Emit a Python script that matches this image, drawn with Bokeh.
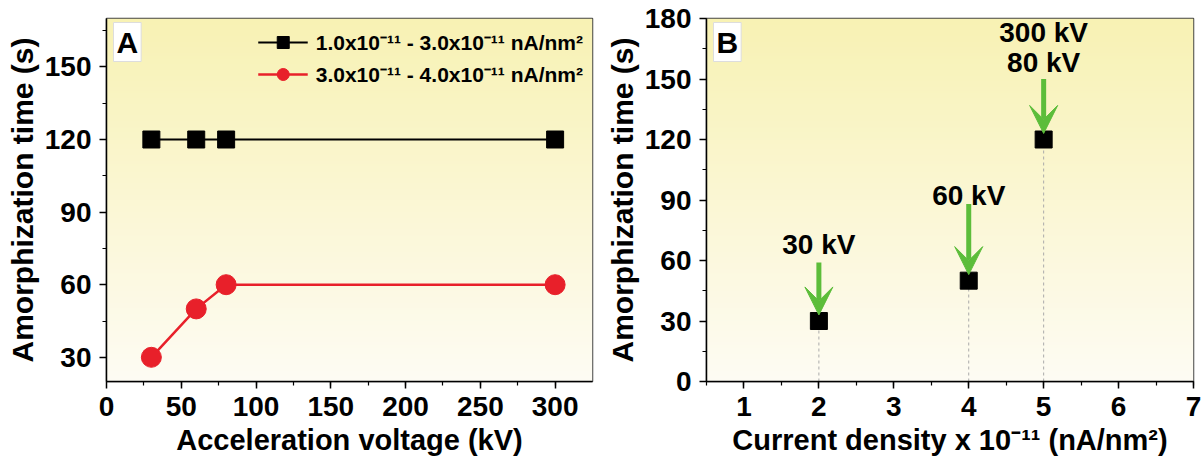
import numpy as np
from bokeh.plotting import figure
from bokeh.layouts import row
from bokeh.models import Label, Arrow, VeeHead, Range1d, FixedTicker, Legend, LegendItem
from bokeh.embed import file_html
from bokeh.resources import INLINE

# ---------------- data ----------------
voltage_kv = [30, 60, 80, 300]
time_low_density = [120, 120, 120, 120]
time_high_density = [30, 50, 60, 60]
legend_labels = ["1.0x10\u207b\u00b9\u00b9 - 3.0x10\u207b\u00b9\u00b9 nA/nm\u00b2",
                 "3.0x10\u207b\u00b9\u00b9 - 4.0x10\u207b\u00b9\u00b9 nA/nm\u00b2"]

current_density = [2, 4, 5]
time_b = [30, 50, 120]
kv_labels = ["30 kV", "60 kV", "80 kV"]
kv_label_y = [68, 92, 158]
extra_label = "300 kV"
extra_label_y = 173
arrow_top = [59, 88, 150]

xticks_a = [0, 50, 100, 150, 200, 250, 300]
yticks_a = [30, 60, 90, 120, 150]
xticks_b = [1, 2, 3, 4, 5, 6, 7]
yticks_b = [0, 30, 60, 90, 120, 150, 180]

FONT = "Liberation Sans"
GREEN = "#5cbd3a"
H = 458


def gradient_img(n=256):
    t = np.linspace(0.0, 1.0, n)[:, None]  # row 0 = bottom
    top = np.array([248, 242, 180])
    bot = np.array([254, 252, 244])
    rgb = bot + (top - bot) * t
    img = np.empty((n, 1, 4), dtype=np.uint8)
    img[:, 0, :3] = rgb.astype(np.uint8)
    img[:, 0, 3] = 255
    return img.view(np.uint32).reshape(n, 1)


def style(p, xlabel, ylabel):
    p.outline_line_color = "#444444"
    p.outline_line_width = 1.5
    p.grid.visible = False
    for ax in (p.xaxis[0], p.yaxis[0]):
        ax.axis_line_color = "black"
        ax.axis_line_width = 1.5
        ax.major_tick_line_color = "black"
        ax.major_tick_line_width = 1.5
        ax.minor_tick_line_color = "black"
        ax.minor_tick_line_width = 1.2
        ax.major_tick_out = 7
        ax.major_tick_in = 0
        ax.minor_tick_out = 4
        ax.minor_tick_in = 0
        ax.major_label_text_font = FONT
        ax.major_label_text_font_style = "bold"
        ax.major_label_text_font_size = "28px"
        ax.major_label_text_color = "black"
        ax.axis_label_text_font = FONT
        ax.axis_label_text_font_style = "bold"
        ax.axis_label_text_color = "black"
    p.xaxis.axis_label = xlabel
    p.yaxis.axis_label = ylabel
    p.xaxis.axis_label_text_font_size = "29px"
    p.yaxis.axis_label_text_font_size = "30px"
    p.xaxis.major_label_standoff = 8
    p.xaxis.axis_label_standoff = 5
    p.yaxis.major_label_standoff = 8
    p.yaxis.axis_label_standoff = 3


def panel_letter(p, letter):
    p.add_layout(Label(x=7, y=359, x_units="screen", y_units="screen", anchor="top_left",
                       text=letter, text_font=FONT, text_font_style="bold", text_color="black",
                       text_font_size="30px", background_fill_color="white",
                       border_line_color="#dddddd", padding=3))


# ---------------- panel A ----------------
pa = figure(width=600, height=H, output_backend="svg", toolbar_location=None,
            x_range=Range1d(0, 325), y_range=Range1d(20, 170),
            min_border_left=106, min_border_right=8, min_border_top=18, min_border_bottom=76,
            background_fill_color="white", border_fill_color="white")
pa.image_rgba(image=[gradient_img()], x=0, y=20, dw=325, dh=150)
style(pa, "Acceleration voltage (kV)", "Amorphization time (s)")
pa.xaxis.ticker = FixedTicker(ticks=xticks_a, minor_ticks=list(range(25, 325, 25)))
pa.yaxis.ticker = FixedTicker(ticks=yticks_a, minor_ticks=list(range(15, 170, 15)))

l1 = pa.line(voltage_kv, time_low_density, line_color="black", line_width=2)
s1 = pa.scatter(voltage_kv, time_low_density, marker="square", size=17,
                fill_color="black", line_color="black")
l2 = pa.line(voltage_kv, time_high_density, line_color="#e8202a", line_width=2.5)
s2 = pa.scatter(voltage_kv, time_high_density, marker="circle", size=20,
                fill_color="#e8202a", line_color="#e8202a")

leg = Legend(items=[LegendItem(label=legend_labels[0], renderers=[l1, s1]),
                    LegendItem(label=legend_labels[1], renderers=[l2, s2])],
             location="top_right")
leg.background_fill_alpha = 0
leg.border_line_alpha = 0
leg.label_text_font = FONT
leg.label_text_font_style = "bold"
leg.label_text_font_size = "21px"
leg.label_text_color = "black"
leg.glyph_width = 50
leg.glyph_height = 30
leg.label_standoff = 8
leg.spacing = 2
leg.margin = 3
leg.padding = 6
pa.add_layout(leg)
panel_letter(pa, "A")

# ---------------- panel B ----------------
pb = figure(width=602, height=H, output_backend="svg", toolbar_location=None,
            x_range=Range1d(0.5, 7), y_range=Range1d(0, 180),
            min_border_left=106, min_border_right=9, min_border_top=18, min_border_bottom=76,
            background_fill_color="white", border_fill_color="white")
pb.image_rgba(image=[gradient_img()], x=0.5, y=0, dw=6.5, dh=180)
style(pb, "Current density x 10\u207b\u00b9\u00b9 (nA/nm\u00b2)", "Amorphization time (s)")
pb.xaxis.ticker = FixedTicker(ticks=xticks_b, minor_ticks=[0.5 + 0.5 * i for i in range(14)])
pb.yaxis.ticker = FixedTicker(ticks=yticks_b, minor_ticks=list(range(15, 180, 30)))

pb.segment(x0=current_density, y0=[0] * len(current_density), x1=current_density, y1=time_b,
           line_color="#aaaaaa", line_width=1, line_dash="3 3")
pb.scatter(current_density, time_b, marker="square", size=17,
           fill_color="black", line_color="black")

for xv, yv, top, lab, ly in zip(current_density, time_b, arrow_top, kv_labels, kv_label_y):
    pb.add_layout(Arrow(x_start=xv, y_start=top, x_end=xv, y_end=yv + 3,
                        line_color=GREEN, line_width=5,
                        end=VeeHead(size=28, fill_color=GREEN, line_color=GREEN, line_width=1)))
    pb.add_layout(Label(x=xv, y=ly, text=lab, text_align="center", text_baseline="middle",
                        text_font=FONT, text_font_style="bold", text_font_size="28px",
                        text_color="black"))
pb.add_layout(Label(x=current_density[-1], y=extra_label_y, text=extra_label, text_align="center",
                    text_baseline="middle", text_font=FONT, text_font_style="bold",
                    text_font_size="28px", text_color="black"))
panel_letter(pb, "B")

layout = row(pa, pb)
open("out.html", "w").write(file_html(layout, INLINE))
